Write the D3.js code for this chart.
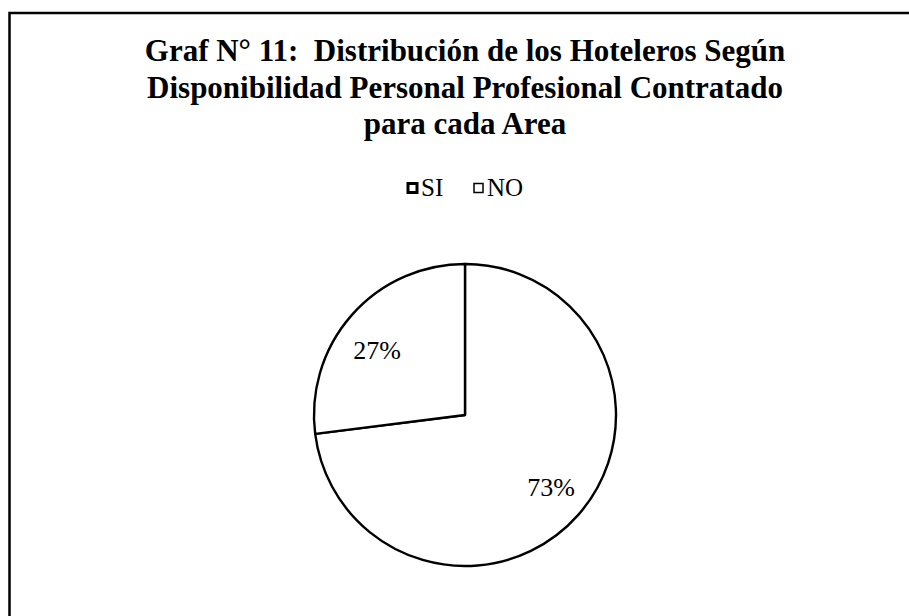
<!DOCTYPE html>
<html><head><meta charset="utf-8">
<script src="https://cdn.jsdelivr.net/npm/d3@7"></script>
<style>body{margin:0;background:#fff}svg{display:block}text{white-space:pre}</style>
</head><body>
<script>
const titleLines = ["Graf N° 11:  Distribución de los Hoteleros Según","Disponibilidad Personal Profesional Contratado","para cada Area"];
const categories = ["SI","NO"];
const values = [73,27];
const labels = ["73%","27%"];

const W=909,H=616;
const svg=d3.select("body").append("svg").attr("width",W).attr("height",H);
svg.append("rect").attr("width",W).attr("height",H).attr("fill","#fff");
// frame
svg.append("path").attr("d","M9.5,630 L9.5,13 L920,13").attr("fill","none").attr("stroke","#000").attr("stroke-width",2.5);

const font="'Liberation Serif','Times New Roman',serif";
svg.append("g").selectAll("text").data(titleLines).join("text")
  .attr("x",465).attr("y",(d,i)=>61+i*36.5).attr("text-anchor","middle")
  .attr("font-family",font).attr("font-weight","bold").attr("font-size",31).attr("fill","#000").text(d=>d);

// legend
const leg=svg.append("g").attr("font-family",font).attr("font-size",25);
const legX=[407,473];
categories.forEach((c,i)=>{
  leg.append("rect").attr("x",legX[i]+1).attr("y",183.5).attr("width",9).attr("height",9)
    .attr("fill","#fff").attr("stroke","#000").attr("stroke-width",i===0?3:1.5);
  leg.append("text").attr("x",legX[i]+14).attr("y",196).text(c);
});

// pie
const cx=465,cy=415,r=151;
const pie=d3.pie().sort(null).value(d=>d)(values);
const arc=d3.arc().innerRadius(0).outerRadius(r);
const g=svg.append("g").attr("transform",`translate(${cx},${cy})`);
g.selectAll("path").data(pie).join("path").attr("d",arc)
  .attr("fill","#fff").attr("stroke","#000").attr("stroke-width",2.4).attr("stroke-linejoin","round");
const labelPos=[[86,72],[-88,-65]];
g.selectAll("text.l").data(pie).join("text").attr("class","l")
  .attr("x",(d,i)=>labelPos[i][0]).attr("y",(d,i)=>labelPos[i][1]).attr("text-anchor","middle")
  .attr("dominant-baseline","central").attr("font-family",font).attr("font-size",26).text((d,i)=>labels[i]);
</script>
</body></html>
